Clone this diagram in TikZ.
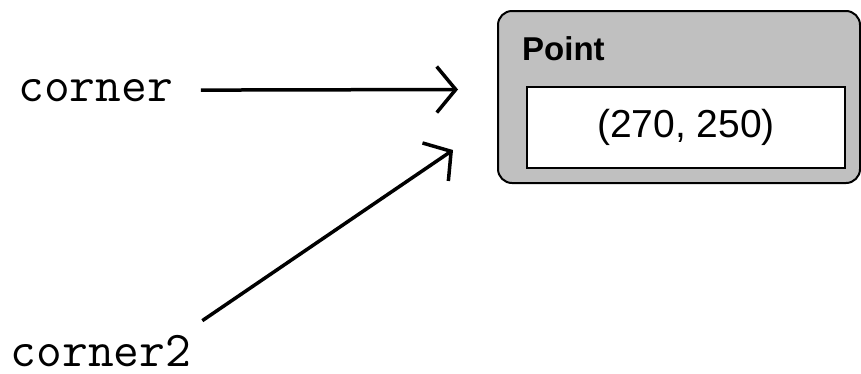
\documentclass[tikz,border=0pt]{standalone}
\usepackage{fontspec}
\newfontfamily\boxfont{Liberation Sans}
\usetikzlibrary{arrows.meta}
\definecolor{boxgray}{RGB}{192,192,192}
\tikzset{
  ref/.style={font=\fontsize{50}{50}\selectfont\ttfamily, inner sep=0pt},
  pointer/.style={line width=3.5pt, -{Straight Barb[length=19pt,width=46pt]}},
  objbox/.style={draw, line width=2pt, fill=boxgray, rounded corners=14pt},
  valbox/.style={draw, line width=2pt, fill=white, font=\boxfont\fontsize{39}{39}\selectfont},
}
\begin{document}
\begin{tikzpicture}[x=1pt,y=-1pt]
  \useasboundingbox (0,0) rectangle (861,373);
  \node[objbox, anchor=north west, minimum width=362pt, minimum height=172pt] (point) at (497,10) {};
  \node[anchor=base west, inner sep=0pt, font=\boxfont\bfseries\fontsize{33}{33}\selectfont] (pointname) at (522,60) {Point};
  \node[valbox, minimum width=318pt, minimum height=81pt] (value) at (686,127.5) {(270, 250)};
  \node[ref, anchor=base] (corner) at (95.5,101) {corner};
  \node[ref, anchor=base] (corner2) at (101,366) {corner2};
  \coordinate (tip1) at (458,89.5);
  \coordinate (tip2) at (453,150);
  \coordinate (tail2) at ([xshift=11pt,yshift=14pt]corner2.north east);
  \draw[pointer, shorten <=28pt] (corner.east) -- (tip1);
  \draw[pointer] (tail2) -- (tip2);
\end{tikzpicture}
\end{document}
